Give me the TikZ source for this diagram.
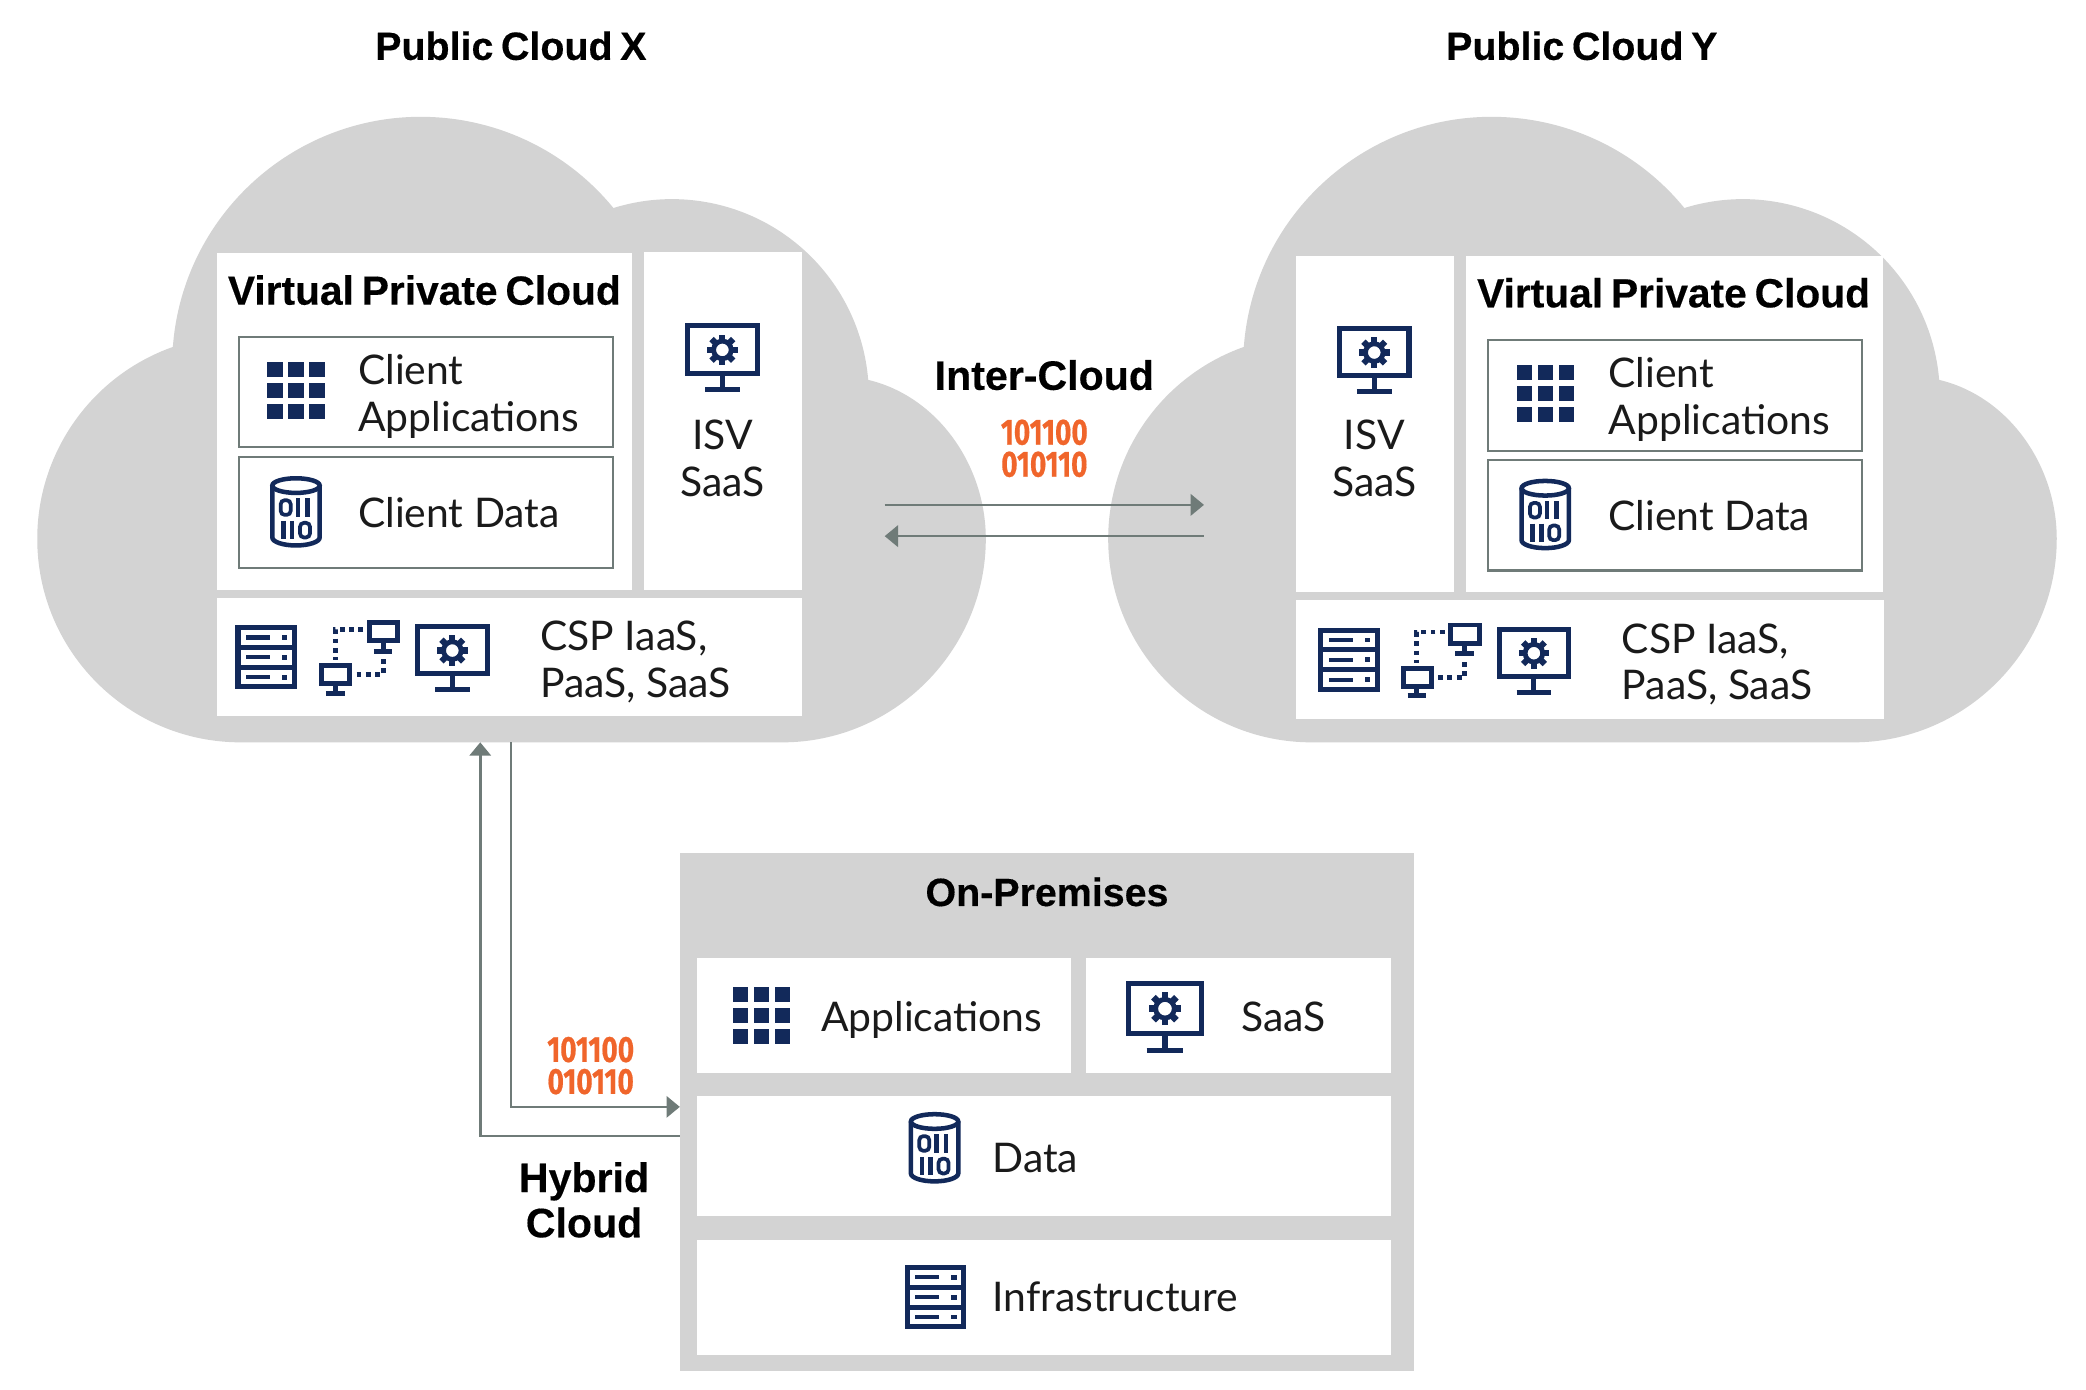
\documentclass[tikz,border=0pt]{standalone}
\usepackage{fontspec}
\setmainfont{Lato}
\newfontfamily\hfont{Liberation Sans}[BoldFeatures={FakeBold=0.35},WordSpace=0.7]
\newfontfamily\binfont{Fira Sans}[BoldFeatures={FakeBold=0.5}]
\definecolor{cloudgray}{HTML}{D3D3D3}
\definecolor{navy}{HTML}{12295A}
\definecolor{linegray}{HTML}{6F7B78}
\definecolor{binorange}{HTML}{F0652B}
\definecolor{ink}{HTML}{1A1A1A}
\usetikzlibrary{arrows.meta}
\tikzset{
  wbox/.style={rectangle,fill=white,draw=none,inner sep=0pt,anchor=north west},
  gbox/.style={wbox,draw=linegray,line width=1.6pt},
  body/.style={inner sep=0pt,text=ink,font=\fontsize{30.7}{30.7}\selectfont,anchor=base west},
  bodyc/.style={body,anchor=base},
  head/.style={inner sep=0pt,text=black,font=\hfont\bfseries\fontsize{29.6}{29.6}\selectfont,anchor=base},
  headl/.style={head,font=\hfont\bfseries\fontsize{30.6}{30.6}\selectfont},
  headm/.style={head,font=\hfont\bfseries\fontsize{30.9}{30.9}\selectfont},
  bin/.style={inner sep=0pt,text=binorange,font=\binfont\bfseries\fontsize{21}{18.5}\selectfont,align=center,anchor=base,yscale=1.3,transform shape},
  conn/.style={draw=linegray,line width=2pt,-{Triangle[length=10pt,width=16pt]}},
  ic/.style={draw=navy,line width=3.8pt},
  cloudshape/.pic={
    \fill[cloudgray] (181,-558) arc[start angle=270,end angle=109.5,radius=153pt]
      arc[start angle=175.7,end angle=39.3,radius=187pt]
      arc[start angle=107.3,end angle=4.7,radius=148pt]
      .. controls (705,-298) and (741,-350) .. (741,-405)
      .. controls (741,-489) and (672,-558) .. (588,-558) -- cycle;
  },
  grid/.pic={
    \foreach \i in {0,1,2}\foreach \j in {0,1,2}
      \fill[navy] (\i*15.75,-\j*15.75) rectangle ++(11.5,-11.5);
  },
  monitor/.pic={
    \draw[ic] (1.9,-1.9) rectangle (54.1,-37.5);
    \draw[ic] (28,-38) -- (28,-48);
    \draw[ic] (15,-49.5) -- (41,-49.5);
    \begin{scope}[shift={(28,-20)}]
      \foreach \a in {0,45,...,315}
        \fill[navy,rotate=\a] (-2.3,5) rectangle (2.3,11.5);
      \draw[navy,line width=3.6pt] (0,0) circle[radius=6.6pt];
    \end{scope}
  },
  server/.pic={
    \draw[ic] (1.9,-1.9) rectangle (44.1,-46.1);
    \draw[ic] (1.9,-16.5) -- (44.1,-16.5) (1.9,-31.5) -- (44.1,-31.5);
    \foreach \y in {-9,-24,-39}{
      \draw[navy,line width=3.4pt] (8,\y) -- (26,\y);
      \fill[navy] (35,\y+1.8) rectangle ++(4,-3.6);
    }
  },
  network/.pic={
    \draw[navy,line width=3.6pt] (37.5,-1.8) rectangle (59,-15.5);
    \draw[navy,line width=3.6pt] (48,-16) -- (48,-23) (41,-23.5) -- (55,-23.5);
    \draw[navy,line width=3.6pt] (1.8,-34.5) rectangle (23,-48);
    \draw[navy,line width=3.6pt] (12,-48) -- (12,-55) (5,-55) -- (19,-55);
    \draw[navy,line width=3.6pt,dash pattern=on 3.6pt off 3.4pt] (33,-7) -- (12,-7) -- (12,-30);
    \draw[navy,line width=3.6pt,dash pattern=on 3.6pt off 3.4pt] (28,-41) -- (48,-41) -- (48,-27);
  },
  dbicon/.pic={
    \draw[ic,line width=3.4pt] (1.7,-7) -- (1.7,-46) arc[start angle=180,end angle=360,x radius=17.8pt,y radius=6pt] -- (37.3,-7);
    \draw[ic,line width=3.4pt] (19.5,-7) ellipse[x radius=17.8pt,y radius=5.5pt];
    \draw[navy,line width=2.8pt,rounded corners=3pt] (8,-18) rectangle (15.5,-29);
    \draw[navy,line width=3.4pt] (21,-16.6) -- (21,-30.4) (28,-16.6) -- (28,-30.4);
    \draw[navy,line width=3.4pt] (10,-33.6) -- (10,-47.4) (16.5,-33.6) -- (16.5,-47.4);
    \draw[navy,line width=2.8pt,rounded corners=3pt] (22.5,-35) rectangle (30,-46);
  }
}
\begin{document}
\begin{tikzpicture}[x=1pt,y=1pt]
\useasboundingbox (0,-1044.8) rectangle (1568,0);
\fill[white] (0,-1044.8) rectangle (1568,0);
% clouds
\pic at (0,0) {cloudshape};
\pic at (805,0) {cloudshape};
% titles
\node[head] (tx) at (384,-45) {Public Cloud X};
\node[head] (ty) at (1189,-45) {Public Cloud Y};
% Cloud X
\node[wbox,minimum width=312pt,minimum height=253pt] (vpcx) at (163,-190) {};
\node[wbox,minimum width=119pt,minimum height=254pt] (isvx) at (484,-189) {};
\node[wbox,minimum width=440pt,minimum height=89pt] (cspx) at (163,-449) {};
\node[headl] (vpcxt) at (319,-229) {Virtual Private Cloud};
\node[gbox,minimum width=281pt,minimum height=83pt] (appx) at (179,-252.5) {};
\node[gbox,minimum width=281pt,minimum height=83pt] (datax) at (179,-343) {};
\pic at (201,-272) {grid};
\pic at (203,-358) {dbicon};
\node[body] (appxa) at (269,-289) {Client};
\node[body] (appxb) at (269,-324) {Applications};
\node[body] (dataxt) at (269,-396.5) {Client Data};
\pic at (515,-243) {monitor};
\node[bodyc] (isvxa) at (543,-338) {ISV};
\node[bodyc] (isvxb) at (543,-373) {SaaS};
\pic at (177,-470) {server};
\pic at (240,-466) {network};
\pic at (312,-469) {monitor};
\node[body] (cspxa) at (406,-489) {CSP IaaS,};
\node[body] (cspxb) at (406,-524) {PaaS, SaaS};
% Cloud Y
\node[wbox,minimum width=119pt,minimum height=253pt] (isvy) at (974,-192) {};
\node[wbox,minimum width=313pt,minimum height=253pt] (vpcy) at (1102,-192) {};
\node[wbox,minimum width=442pt,minimum height=89pt] (cspy) at (974,-451) {};
\node[headl] (vpcyt) at (1258,-231) {Virtual Private Cloud};
\node[gbox,minimum width=281pt,minimum height=83pt] (appy) at (1118,-255) {};
\node[gbox,minimum width=281pt,minimum height=83pt] (datay) at (1118,-345) {};
\pic at (1140,-274.5) {grid};
\pic at (1142,-360) {dbicon};
\node[body] (appya) at (1209,-291.5) {Client};
\node[body] (appyb) at (1209,-326.5) {Applications};
\node[body] (datayt) at (1209,-398.5) {Client Data};
\pic at (1005,-245) {monitor};
\node[bodyc] (isvya) at (1033,-338) {ISV};
\node[bodyc] (isvyb) at (1033,-373) {SaaS};
\pic at (991,-472) {server};
\pic at (1053,-468) {network};
\pic at (1125,-471) {monitor};
\node[body] (cspya) at (1219,-491) {CSP IaaS,};
\node[body] (cspyb) at (1219,-526) {PaaS, SaaS};
% Inter-cloud
\node[headm] (inter) at (785,-293) {Inter-Cloud};
\node[bin,anchor=center] (bina) at (785,-337) {101100\\010110};
\coordinate (ixr) at (665,-379.5);
\coordinate (ixl) at (665,-403);
\coordinate (iyr) at (905,-379.5);
\coordinate (iyl) at (905,-403);
\draw[conn] (ixr) -- (iyr);
\draw[conn] (iyl) -- (ixl);
% On-premises
\node[wbox,fill=cloudgray,minimum width=552pt,minimum height=389pt] (onprem) at (511,-641) {};
\node[head] (onpremt) at (787,-681) {On-Premises};
\node[wbox,minimum width=281pt,minimum height=86pt] (opapp) at (524,-720) {};
\node[wbox,minimum width=229pt,minimum height=86pt] (opsaas) at (816,-720) {};
\node[wbox,minimum width=521pt,minimum height=90pt] (opdata) at (524,-824) {};
\node[wbox,minimum width=521pt,minimum height=86pt] (opinfra) at (524,-932) {};
\pic at (551,-742) {grid};
\node[body] (opappt) at (617,-775) {Applications};
\pic[scale=1.06] at (846,-737) {monitor};
\node[body] (opsaast) at (933,-775) {SaaS};
\pic at (683,-836) {dbicon};
\node[body] (opdatat) at (746,-881) {Data};
\pic at (680,-951) {server};
\node[body] (opinfrat) at (746,-986) {Infrastructure};
% Hybrid
\coordinate (hup) at (361,-558);
\coordinate (hdown) at (384,-558);
\draw[conn] (onprem.west |- 0,-854) -| (hup);
\draw[conn] (hdown) |- (onprem.west |- 0,-832);
\node[bin,anchor=center] (binc) at (444,-801) {101100\\010110};
\node[headm] (hyba) at (439,-896) {Hybrid};
\node[headm] (hybb) at (439,-930) {Cloud};
\end{tikzpicture}
\end{document}
